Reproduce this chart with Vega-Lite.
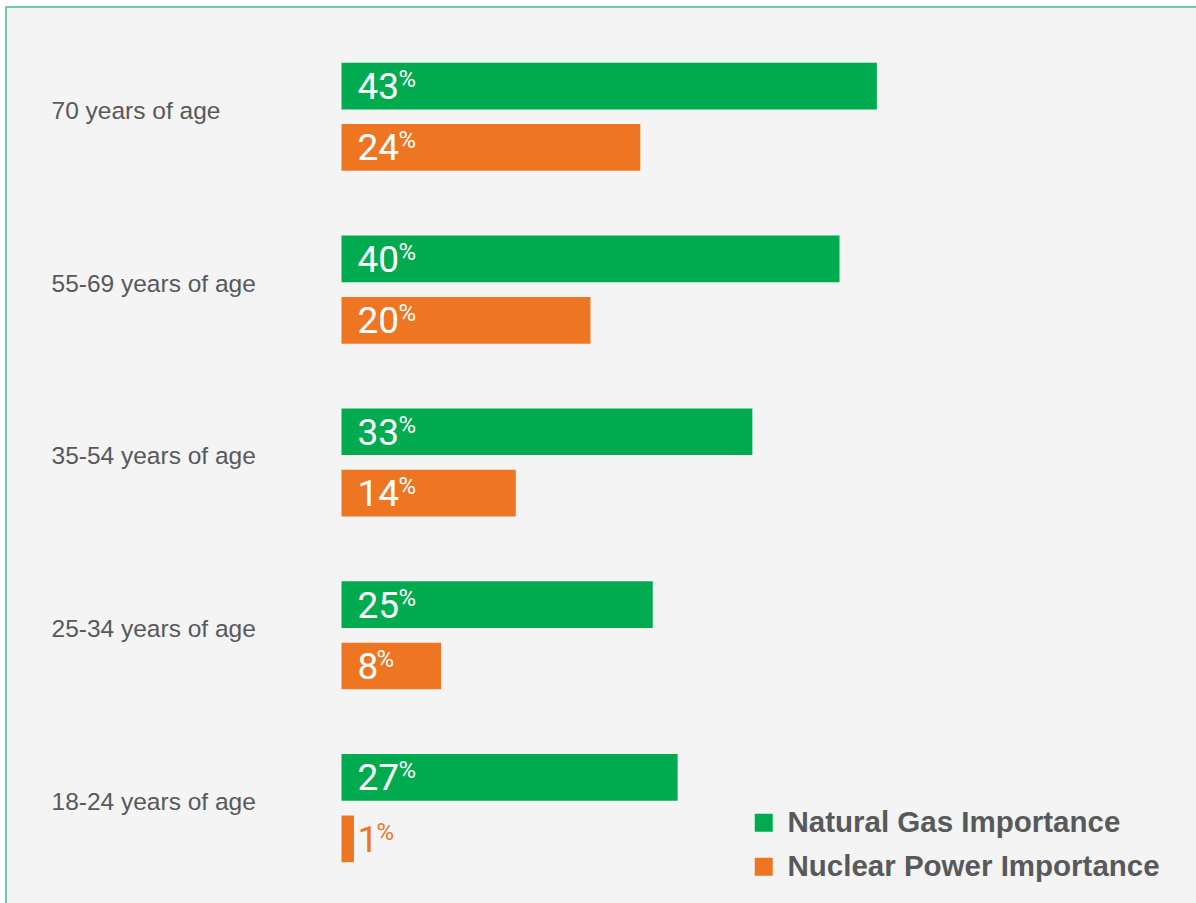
{
  "$schema": "https://vega.github.io/schema/vega-lite/v6.json",
  "width": 1194,
  "height": 900,
  "autosize": {"type": "none"},
  "padding": {"left": 6, "top": 7, "right": -4, "bottom": -4},
  "background": "white",
  "config": {
    "view": {"fill": "#f4f4f4", "stroke": "#4dbb85", "strokeWidth": 1.5}
  },
  "data": {
    "values": [
      {"age": "70 years of age", "series": "Natural Gas Importance", "value": 43},
      {"age": "70 years of age", "series": "Nuclear Power Importance", "value": 24},
      {"age": "55-69 years of age", "series": "Natural Gas Importance", "value": 40},
      {"age": "55-69 years of age", "series": "Nuclear Power Importance", "value": 20},
      {"age": "35-54 years of age", "series": "Natural Gas Importance", "value": 33},
      {"age": "35-54 years of age", "series": "Nuclear Power Importance", "value": 14},
      {"age": "25-34 years of age", "series": "Natural Gas Importance", "value": 25},
      {"age": "25-34 years of age", "series": "Nuclear Power Importance", "value": 8},
      {"age": "18-24 years of age", "series": "Natural Gas Importance", "value": 27},
      {"age": "18-24 years of age", "series": "Nuclear Power Importance", "value": 1}
    ]
  },
  "encoding": {
    "y": {
      "field": "age",
      "type": "nominal",
      "sort": ["70 years of age", "55-69 years of age", "35-54 years of age", "25-34 years of age", "18-24 years of age"],
      "scale": {"range": [23.3, 887.6], "paddingInner": 0, "paddingOuter": 0},
      "axis": {
        "title": null,
        "domain": false,
        "ticks": false,
        "tickSize": 0,
        "labelAlign": "left",
        "labelBaseline": "middle",
        "labelPadding": -45,
        "labelOffset": -5,
        "labelFont": "Liberation Sans",
        "labelFontSize": 24.5,
        "labelColor": "#58595b",
        "labelLimit": 0
      }
    },
    "yOffset": {
      "field": "series",
      "type": "nominal",
      "scale": {"paddingInner": 0.2394, "paddingOuter": 0.5274}
    }
  },
  "layer": [
    {
      "mark": {"type": "bar"},
      "encoding": {
        "x": {
          "field": "value",
          "type": "quantitative",
          "scale": {"domain": [0, 43], "range": [335.5, 870.85], "nice": false, "zero": false},
          "axis": null
        },
        "color": {
          "field": "series",
          "type": "nominal",
          "scale": {
            "domain": ["Natural Gas Importance", "Nuclear Power Importance"],
            "range": ["#00ab4f", "#ee7623"]
          },
          "legend": {
            "title": null,
            "orient": "none",
            "legendX": 743,
            "legendY": 801,
            "padding": 0,
            "symbolType": "square",
            "symbolSize": 324,
            "symbolStrokeWidth": 0,
            "symbolOpacity": 1,
            "labelFont": "Liberation Sans",
            "labelFontWeight": "bold",
            "labelFontSize": 29.5,
            "labelColor": "#58595b",
            "labelOffset": 9,
            "labelLimit": 0,
            "rowPadding": 13
          }
        }
      }
    },
    {
      "mark": {
        "type": "text",
        "align": "left",
        "baseline": "alphabetic",
        "dx": 16,
        "dy": 13,
        "font": "Roboto",
        "fontSize": 37
      },
      "encoding": {
        "x": {"datum": 0, "type": "quantitative"},
        "text": {"field": "value", "type": "quantitative"},
        "color": {
          "condition": {"test": "datum.value < 5", "value": "#ee7623"},
          "value": "#ffffff"
        }
      }
    },
    {
      "transform": [{"filter": "datum.value >= 10"}],
      "mark": {
        "type": "text",
        "align": "left",
        "baseline": "alphabetic",
        "dx": 57,
        "dy": 1,
        "font": "Roboto",
        "fontSize": 24,
        "text": "%"
      },
      "encoding": {
        "x": {"datum": 0, "type": "quantitative"},
        "color": {"value": "#ffffff"}
      }
    },
    {
      "transform": [{"filter": "datum.value < 10"}],
      "mark": {
        "type": "text",
        "align": "left",
        "baseline": "alphabetic",
        "dx": 35,
        "dy": 1,
        "font": "Roboto",
        "fontSize": 24,
        "text": "%"
      },
      "encoding": {
        "x": {"datum": 0, "type": "quantitative"},
        "color": {
          "condition": {"test": "datum.value < 5", "value": "#ee7623"},
          "value": "#ffffff"
        }
      }
    }
  ]
}
